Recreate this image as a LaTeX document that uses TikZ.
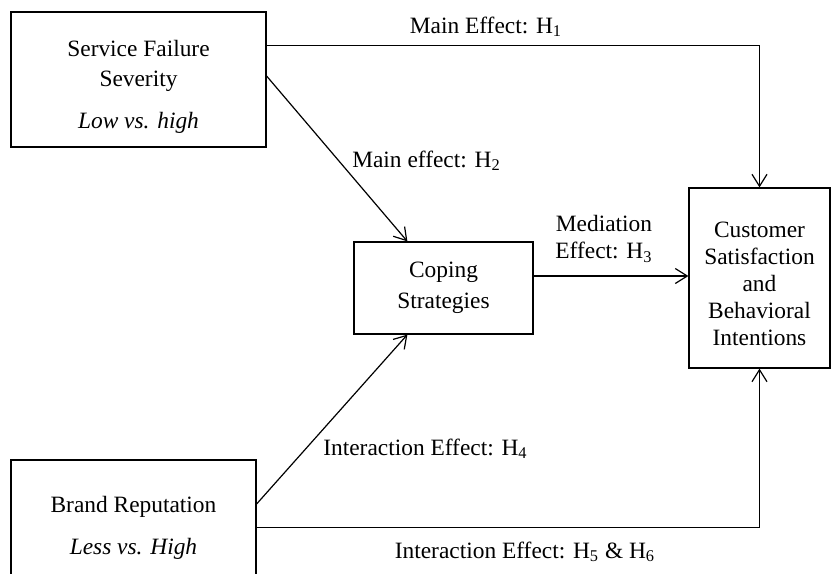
\documentclass[tikz,border=0pt]{standalone}
\usepackage{fontspec}
\setmainfont{Liberation Serif}
\usetikzlibrary{arrows.meta}

\tikzset{
  boite/.style={draw, line width=0.6pt, align=center, inner sep=0pt},
  fleche/.style={-{Straight Barb[length=6pt,width=7.5pt]}, line width=0.6pt},
  etiq/.style={inner sep=0pt, anchor=base}
}

\begin{document}
\begin{tikzpicture}[x=0.5pt, y=-0.5pt, font=\fontsize{11.7}{13.5}\selectfont]

\useasboundingbox (0,0) rectangle (832,574);

% Boites
  \node[boite, minimum width=127.5pt, minimum height=67.5pt] (sfs) at (138.5,79.5)
    {\rule{0pt}{15pt}Service Failure\\[1.5pt] Severity\\[7.5pt] \textit{Low vs. high}};
  \node[boite, minimum width=89.5pt, minimum height=46pt] (coping) at (443.5,288)
    {Coping\\[2pt] Strategies};
  \node[boite, minimum width=70.5pt, minimum height=90pt] (csbi) at (759.5,278)
    {\rule{0pt}{14pt}Customer\\ Satisfaction\\ and\\ Behavioral\\ Intentions};
  \node[boite, minimum width=122.5pt, minimum height=67.5pt] (br) at (133.5,527.5)
    {Brand Reputation\\[7.5pt] \textit{Less vs. High}};

% Fleches
  \draw[fleche] ([yshift=-17pt]sfs.north east) -| (csbi.north);
  \draw[fleche] ([yshift=1.75pt]sfs.east) -- ([xshift=27pt]coping.north west);
  \coordinate (m) at ([yshift=6pt]coping.east);
  \draw[fleche] (m) -- (m -| csbi.west);
  \draw[fleche] ([yshift=11.75pt]br.east) -- ([xshift=27pt]coping.south west);
  \draw[fleche] (br.east) -| (csbi.south);

% Labels
  \node[etiq] (h1) at (486,33) {Main Effect: H\textsubscript{1}};
  \node[etiq] (h2) at (426.5,167) {Main effect: H\textsubscript{2}};
  \node[align=center, inner sep=0pt] (h3) at (604,239) {Mediation\\ Effect: H\textsubscript{3}};
  \node[etiq] (h4) at (425.5,455) {Interaction Effect: H\textsubscript{4}};
  \node[etiq] (h56) at (525,558) {Interaction Effect: H\textsubscript{5} \& H\textsubscript{6}};

\end{tikzpicture}
\end{document}
